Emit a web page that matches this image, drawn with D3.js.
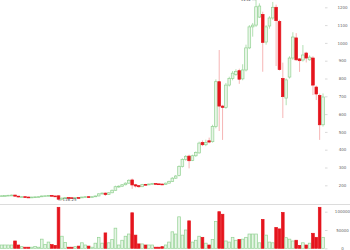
<!DOCTYPE html>
<html>
<head>
<meta charset="utf-8">
<script src="https://cdn.jsdelivr.net/npm/d3@7"></script>
<style>
  body { margin: 0; background: #fff; }
  svg { display: block; }
</style>
</head>
<body>
<div id="chart"></div>
<script>
// daily candles
var opens  = [139,141,142,144,145,139,135,136,134,133,134,135,136,140,141,143,140,141,122,128,
              131,130,129,131,130,134,136,134,136,140,152,156,148,158,172,192,195,203,212,230,
              203,198,192,205,203,207,210,208,207,205,212,222,240,255,305,345,364,340,366,382,
              440,428,450,445,530,782,645,638,763,800,822,844,798,848,972,1090,1100,1145,1160,1005,
              1095,1140,1200,1120,800,690,808,915,1028,910,904,943,905,915,752,705,540];
var closes = [141,142,144,145,139,135,136,134,133,134,135,136,140,141,143,140,138,122,128,131,
              130,129,131,130,134,136,134,136,140,152,156,148,158,172,192,195,203,212,228,202,
              196,192,205,203,207,210,208,207,205,212,222,240,252,305,345,362,338,366,384,437,
              428,440,443,530,782,645,638,763,800,830,840,796,848,972,1090,1100,1203,1207,1003,1090,
              1140,1200,1125,850,698,792,915,1033,905,900,932,915,920,763,713,540,696];
var highs  = [143,144,146,148,147,140,138,137,136,135,137,137,142,143,145,144,141,143,131,133,
              132,131,132,132,136,138,137,137,142,155,160,160,162,176,198,200,207,216,234,238,
              208,201,208,208,210,213,212,210,209,215,226,246,258,312,352,370,372,372,390,445,
              452,456,468,540,795,960,652,775,810,842,852,855,880,990,1100,1112,1242,1222,1175,1100,
              1150,1230,1215,1130,889,800,925,1060,1055,915,988,950,930,925,760,715,716];
var lows   = [137,139,140,142,136,132,133,132,131,131,132,133,134,138,139,138,136,116.25,119,125,
              128,127,128,128,129,132,132,133,135,139,149,140,146,156,170,186,191,200,209,180,
              188,186,190,200,201,205,206,205,203,204,210,220,236,250,300,338,295,336,360,378,
              420,420,436,440,520,505,455,630,755,790,815,770,790,840,965,1035,1090,1140,838,990,
              1080,1130,870,845,578,650,800,905,900,837,895,890,900,707,679,455,530];
var volumes = [9000,9000,9000,9000,20000,9000,4500,3000,3000,3000,5000,3000,25000,10000,17000,10000,8000,112000,33000,16000,
               3000,3000,4500,6000,15000,9000,6000,3000,14000,30000,14000,42000,15000,24000,55000,9000,22000,33000,39000,97000,
               36000,12000,12000,9000,9000,9000,3000,3000,4500,9000,17000,45000,39000,86000,36000,50000,75000,17000,22000,33000,
               30000,14000,9000,24000,73000,100000,93000,20000,17000,30000,22000,24000,25000,30000,39000,39000,39000,15000,79000,36000,
               17000,15000,57000,53000,98000,29000,25000,20000,22000,8000,15000,9000,14000,41000,30000,112000,30000];
var priceTicks = [200,300,400,500,600,700,800,900,1000,1100,1200];
var volumeTicks = [0,50000,100000];

var width = 350, height = 250;
var upStroke = "#93d293", upFill = "#e6f5e6", upWick = "#9fd89f";
var downFill = "#e5141d", downWick = "#f4a3a3";

var days = opens.map(function (d, i) { return i; });

var svg = d3.select("#chart").append("svg")
    .attr("width", width)
    .attr("height", height);

var x = d3.scaleBand().domain(days).range([-0.4, 325]).padding(0.2);
var y = d3.scaleLinear().domain([200, 1200]).range([185.3, 7.3]);
var yv = d3.scaleLinear().domain([0, 100000]).range([248.3, 211.7]);

function isUp(i) { return closes[i] >= opens[i]; }
function cx(i) { return x(i) + x.bandwidth() / 2; }

//divider between price and volume
svg.append("line")
    .attr("x1", 0).attr("x2", width)
    .attr("y1", 204.5).attr("y2", 204.5)
    .attr("stroke", "#dcdcdc").attr("stroke-width", 1);

//axes
function styleAxis(g) {
    g.select(".domain").remove();
    g.selectAll(".tick line").attr("stroke", "#cfcfcf").attr("stroke-width", 0.8);
    g.selectAll(".tick text")
        .attr("x", 17.5)
        .attr("text-anchor", "middle")
        .attr("fill", "#666")
        .style("font-family", "DejaVu Sans, sans-serif")
        .style("font-size", "4px");
}
svg.append("g")
    .attr("transform", "translate(325,0)")
    .call(d3.axisRight(y).tickValues(priceTicks).tickSize(2.5).tickFormat(d3.format("d")))
    .call(styleAxis);
svg.append("g")
    .attr("transform", "translate(325,0)")
    .call(d3.axisRight(yv).tickValues(volumeTicks).tickSize(2.5).tickFormat(d3.format("d")))
    .call(styleAxis);

//wicks
svg.append("g").selectAll("line")
    .data(days).enter().append("line")
    .attr("x1", cx).attr("x2", cx)
    .attr("y1", function (i) { return y(highs[i]); })
    .attr("y2", function (i) { return y(lows[i]); })
    .attr("stroke", function (i) { return isUp(i) ? upWick : downWick; })
    .attr("stroke-width", 0.8);

//bodies
svg.append("g").selectAll("rect")
    .data(days).enter().append("rect")
    .attr("x", function (i) { return x(i); })
    .attr("width", x.bandwidth())
    .attr("y", function (i) { return y(Math.max(opens[i], closes[i])); })
    .attr("height", function (i) { return Math.max(0.8, Math.abs(y(opens[i]) - y(closes[i]))); })
    .attr("fill", function (i) { return isUp(i) ? upFill : downFill; })
    .attr("stroke", function (i) { return isUp(i) ? upStroke : downFill; })
    .attr("stroke-width", 0.7);

//volume bars
svg.append("g").selectAll("rect")
    .data(days).enter().append("rect")
    .attr("x", function (i) { return x(i); })
    .attr("width", x.bandwidth())
    .attr("y", function (i) { return yv(volumes[i]); })
    .attr("height", function (i) { return yv(0) - yv(volumes[i]); })
    .attr("fill", function (i) { return isUp(i) ? upFill : downFill; })
    .attr("stroke", function (i) { return isUp(i) ? upStroke : downFill; })
    .attr("stroke-width", 0.7);

//max / min markers
var hi = d3.maxIndex(highs), lo = d3.minIndex(lows);
var marks = svg.append("g").style("font-family", "DejaVu Sans, sans-serif").style("font-size", "4px");
marks.append("line")
    .attr("x1", cx(hi) - 4).attr("x2", cx(hi))
    .attr("y1", y(highs[hi])).attr("y2", y(highs[hi]))
    .attr("stroke", "#888").attr("stroke-width", 0.5);
marks.append("text")
    .attr("x", cx(hi) - 5).attr("y", y(highs[hi]))
    .attr("dominant-baseline", "middle")
    .attr("text-anchor", "end")
    .attr("fill", "#555")
    .text(highs[hi]);
marks.append("line")
    .attr("x1", cx(lo)).attr("x2", cx(lo) + 3)
    .attr("y1", y(lows[lo])).attr("y2", y(lows[lo]))
    .attr("stroke", "#888").attr("stroke-width", 0.5);
marks.append("text")
    .attr("x", cx(lo) + 4).attr("y", y(lows[lo]))
    .attr("dominant-baseline", "middle")
    .attr("fill", "#555")
    .text(lows[lo]);
</script>
</body>
</html>
